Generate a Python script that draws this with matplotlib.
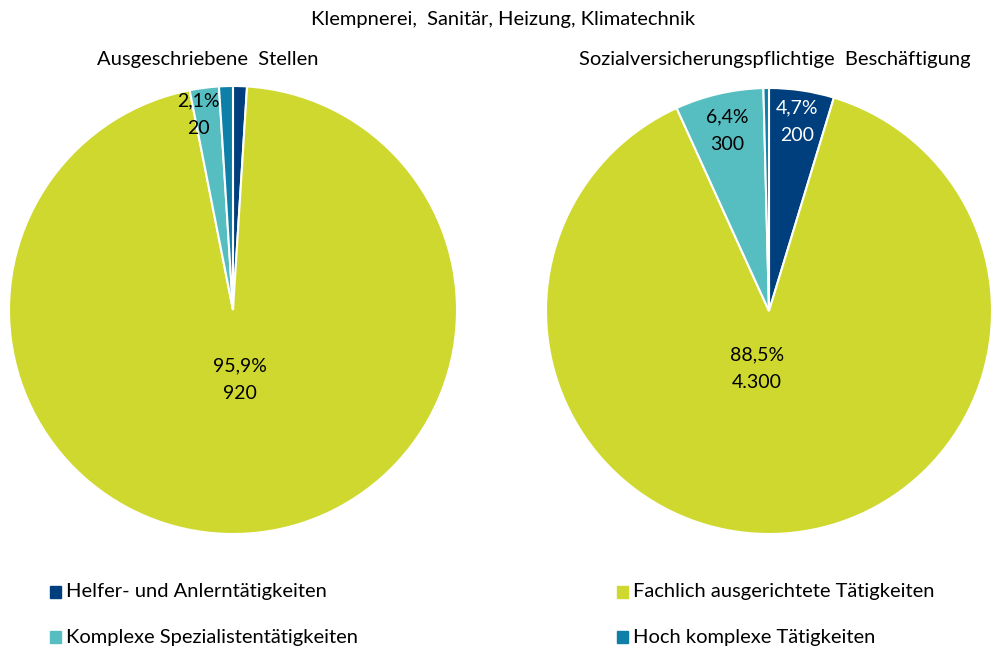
import matplotlib
matplotlib.use("Agg")
import matplotlib.pyplot as plt
import numpy as np

categories = ["Helfer- und Anlerntätigkeiten", "Fachlich ausgerichtete Tätigkeiten",
              "Komplexe Spezialistentätigkeiten", "Hoch komplexe Tätigkeiten"]
colors = ["#003F7D", "#CFD82E", "#56BEC1", "#0E7FA6"]

left_pct = [1.0, 95.9, 2.1, 1.0]
left_labels = [None, "95,9%\n920", "2,1%\n20", None]
right_pct = [4.7, 88.5, 6.4, 0.4]
right_labels = ["4,7%\n200", "88,5%\n4.300", "6,4%\n300", None]

title = "Klempnerei,  Sanitär, Heizung, Klimatechnik"
left_title = "Ausgeschriebene  Stellen"
right_title = "Sozialversicherungspflichtige  Beschäftigung"

plt.rcParams['font.family'] = ['Lato', 'DejaVu Sans']
W, H = 992, 650
fig = plt.figure(figsize=(W/100, H/100), dpi=100)

def draw(cx, cy, r, vals, labels, label_r, label_off, label_colors):
    ax = fig.add_axes([(cx - r)/W, 1 - (cy + r)/H, 2*r/W, 2*r/H])
    wedges, _ = ax.pie(vals, colors=colors, startangle=90, counterclock=False,
                       wedgeprops=dict(edgecolor="white", linewidth=1.5))
    ax.set_xlim(-1, 1)
    ax.set_ylim(-1, 1)
    ax.set_aspect('equal')
    for i, (w, lab) in enumerate(zip(wedges, labels)):
        if lab is None:
            continue
        ang = np.deg2rad((w.theta1 + w.theta2) / 2)
        rr = label_r[i]
        ox, oy = label_off[i]
        ax.text(rr*np.cos(ang) + ox, rr*np.sin(ang) + oy, lab, ha='center', va='center',
                fontsize=14, color=label_colors[i], linespacing=1.75)
    return ax

draw(233, 310, 224, left_pct, left_labels, [0, 0.31, 0.88, 0],
     [(0, 0), (0.01, 0), (-0.04, 0), (0, 0)], ["k", "k", "k", "k"])
draw(769, 311, 223, right_pct, right_labels, [0.86, 0.26, 0.83, 0],
     [(0, 0), (-0.07, 0), (0, 0), (0, 0)], ["white", "k", "k", "k"])

fig.text(503/W, 1 - 20/H, title, ha='center', va='center', fontsize=14.5)
fig.text(208/W, 1 - 60/H, left_title, ha='center', va='center', fontsize=14.5)
fig.text(775/W, 1 - 60/H, right_title, ha='center', va='center', fontsize=14.5)

pos = [(50, 592), (617, 592), (50, 637), (617, 637)]
for (x, y), c, lab in zip(pos, colors, categories):
    fig.patches.append(matplotlib.patches.Rectangle((x/W, 1 - (y + 6)/H), 11/W, 12/H,
                       transform=fig.transFigure, color=c))
    fig.text((x + 16)/W, 1 - y/H, lab, ha='left', va='center', fontsize=14.5)

fig.savefig("out.png", dpi=100)
